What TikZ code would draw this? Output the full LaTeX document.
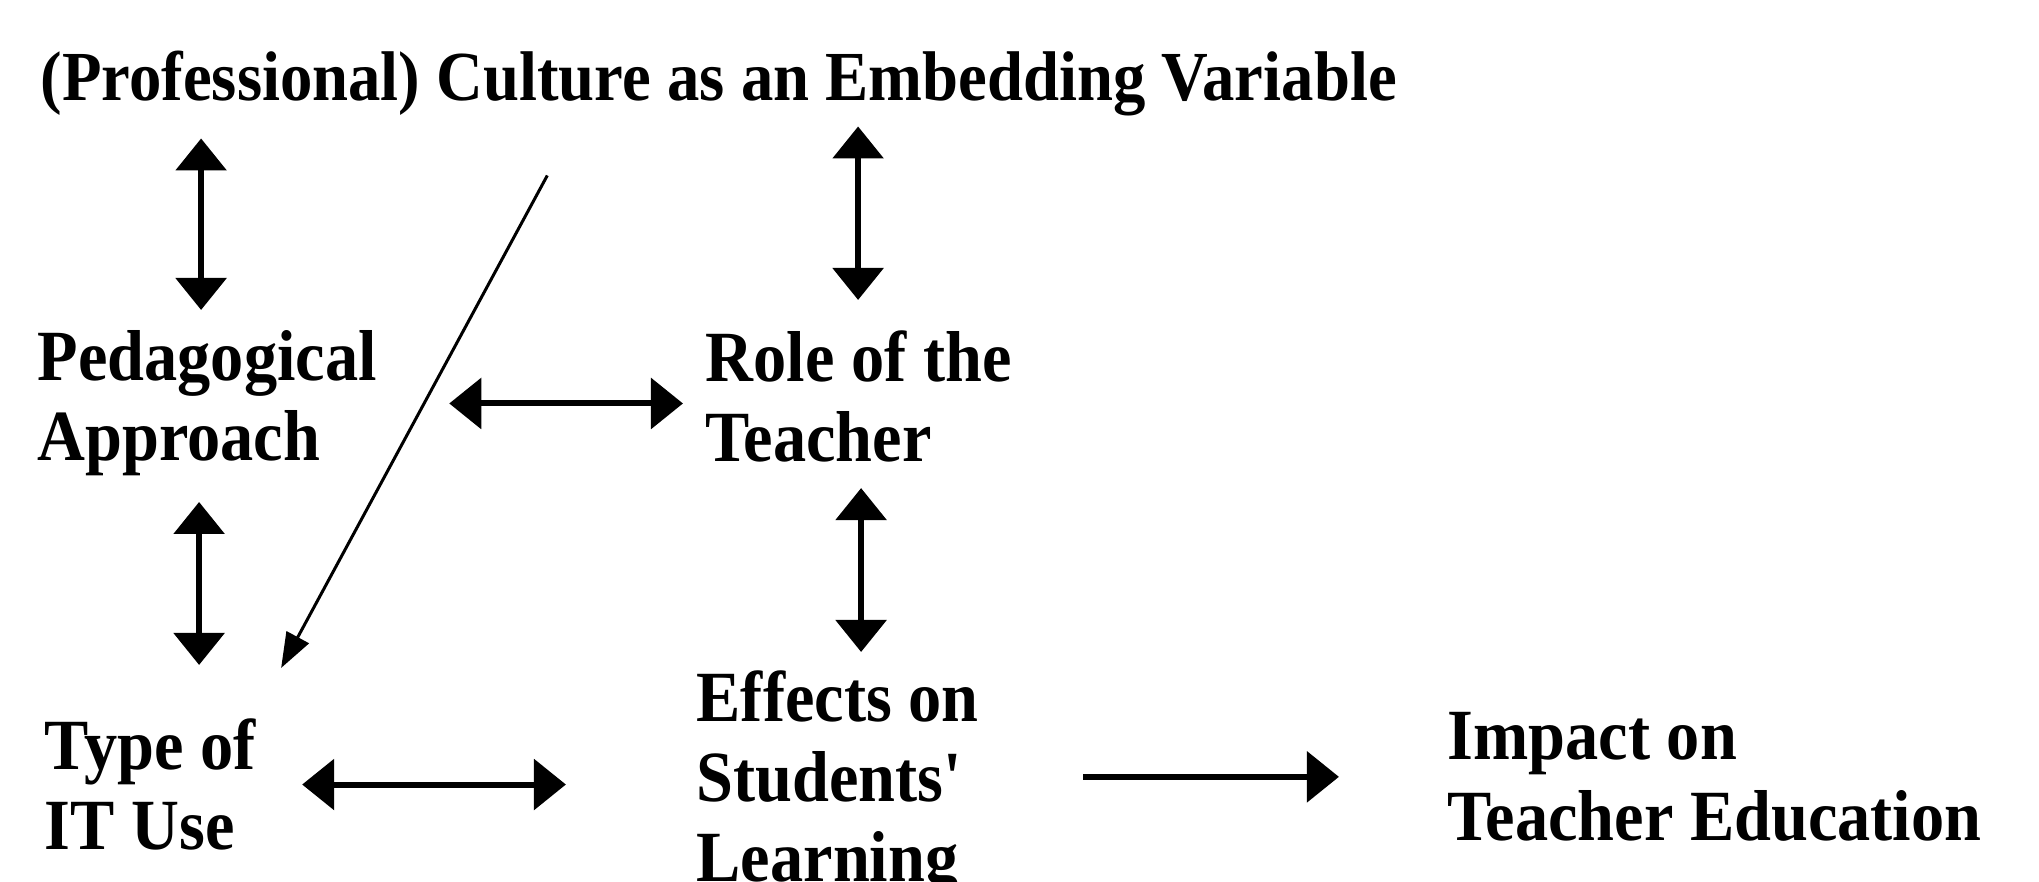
\documentclass[tikz,border=0pt]{standalone}
\usepackage{fontspec}
\setmainfont{Liberation Serif}[FakeStretch=0.92]
\usetikzlibrary{arrows.meta}
\begin{document}
\begin{tikzpicture}[x=0.01cm,y=-0.01cm,
  lbl/.style={anchor=north west,inner sep=0pt,align=left,
    font=\fontsize{20.5}{22.8}\selectfont\bfseries},
  dbl/.style={line width=0.06cm,{Triangle[width=0.5cm,length=0.32cm]}-{Triangle[width=0.5cm,length=0.32cm]}},
  sgl/.style={line width=0.06cm,-{Triangle[width=0.5cm,length=0.32cm]}}]
\useasboundingbox (0,0) rectangle (2039,882);

\node[lbl,font=\fontsize{20}{22.8}\selectfont\bfseries] (culture) at (40,50) {(Professional) Culture as an Embedding Variable};
\node[lbl] (ped) at (37,330) {Pedagogical\\Approach};
\node[lbl] (role) at (705,330) {Role of the\\Teacher};
\node[lbl] (type) at (44,718) {Type of\\IT Use};
\node[lbl] (effects) at (696,670) {Effects on\\Students\textquotesingle\\Learning};
\node[lbl] (impact) at (1447,712) {Impact on\\Teacher Education};

\draw[dbl,shorten <=0.22cm,shorten >=0.2cm] ([xshift=1.64cm]ped.north west |- culture.south) -- ([xshift=1.64cm]ped.north west);
\draw[dbl,shorten <=0.1cm,shorten >=0.3cm] ([xshift=1.53cm]role.north west |- culture.south) -- ([xshift=1.53cm]role.north west);
\draw[dbl,shorten <=0.25cm,shorten >=0.53cm] ([xshift=1.62cm]ped.south west) -- ([xshift=1.62cm]ped.south west |- type.north);
\draw[dbl,shorten <=0.25cm,shorten >=0.18cm] ([xshift=1.56cm]role.south west) -- ([xshift=1.56cm]role.south west |- effects.north);
\draw[dbl,shorten <=4.12cm,shorten >=0.22cm] (ped.west) -- (ped.west -| role.west);
\draw[dbl,shorten <=2.58cm,shorten >=1.3cm] (type.west) -- (type.west -| effects.west);
\draw[sgl,shorten <=3.87cm,shorten >=1.08cm] (impact.west -| effects.west) -- (impact.west);

\draw[line width=0.03cm,-{Triangle[width=0.25cm,length=0.35cm]}]
  ([xshift=5.07cm,yshift=-0.59cm]culture.south west) -- ([xshift=2.37cm,yshift=0.5cm]type.north west);
\end{tikzpicture}
\end{document}
